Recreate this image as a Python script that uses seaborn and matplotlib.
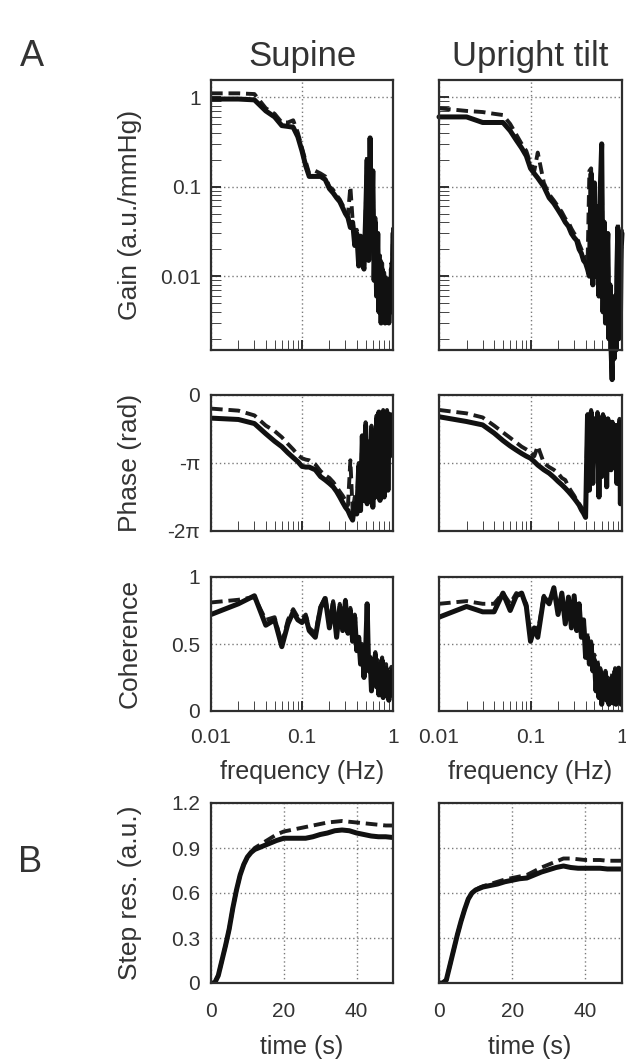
import numpy as np
import seaborn as sns
import matplotlib.pyplot as plt
from matplotlib.ticker import FixedLocator, LogLocator, NullFormatter

# frequency grid (Hz) shared by the spectral panels
freq = [0.01, 0.02, 0.03, 0.04, 0.05, 0.06, 0.07, 0.08, 0.09, 0.10, 0.11, 0.12,
        0.14, 0.16, 0.18, 0.20, 0.22, 0.24, 0.26, 0.28, 0.30, 0.32, 0.34, 0.36, 0.38, 0.40,
        0.42, 0.44, 0.46, 0.48, 0.50, 0.52, 0.54, 0.56, 0.58, 0.60,
        0.62, 0.64, 0.66, 0.68, 0.70, 0.72, 0.74, 0.76, 0.78, 0.80,
        0.82, 0.84, 0.86, 0.88, 0.90, 0.92, 0.94, 0.96, 0.98, 1.00]

# gain (a.u./mmHg)
gain_supine_solid = [0.95, 0.95, 0.93, 0.70, 0.60, 0.48, 0.47, 0.46, 0.36, 0.25, 0.17, 0.13,
                     0.13, 0.13, 0.12, 0.095, 0.085, 0.075, 0.068, 0.058, 0.050, 0.045, 0.035, 0.040, 0.022, 0.030,
                     0.013, 0.028, 0.014, 0.012, 0.045, 0.20, 0.015, 0.35, 0.03, 0.15,
                     0.009, 0.04, 0.006, 0.03, 0.004, 0.015, 0.003, 0.012, 0.004, 0.010,
                     0.003, 0.008, 0.004, 0.009, 0.003, 0.006, 0.004, 0.012, 0.008, 0.030]
gain_supine_dashed = [1.10, 1.10, 1.08, 0.75, 0.65, 0.52, 0.52, 0.55, 0.40, 0.27, 0.19, 0.14,
                      0.15, 0.14, 0.13, 0.10, 0.092, 0.080, 0.072, 0.062, 0.055, 0.048, 0.10, 0.042, 0.025, 0.033,
                      0.015, 0.030, 0.016, 0.014, 0.05, 0.22, 0.017, 0.30, 0.035, 0.12,
                      0.010, 0.045, 0.007, 0.032, 0.005, 0.017, 0.0035, 0.014, 0.005, 0.011,
                      0.0035, 0.009, 0.005, 0.010, 0.0035, 0.007, 0.005, 0.014, 0.009, 0.035]
gain_tilt_solid = [0.60, 0.60, 0.52, 0.52, 0.52, 0.42, 0.33, 0.27, 0.22, 0.16, 0.14, 0.125,
                   0.10, 0.075, 0.065, 0.055, 0.047, 0.040, 0.036, 0.030, 0.027, 0.025, 0.020, 0.018, 0.015, 0.014,
                   0.012, 0.010, 0.14, 0.008, 0.11, 0.010, 0.06, 0.006, 0.10, 0.30,
                   0.004, 0.04, 0.003, 0.015, 0.030, 0.002, 0.008, 0.0015, 0.0007, 0.004,
                   0.0012, 0.006, 0.0015, 0.012, 0.035, 0.002, 0.015, 0.003, 0.02, 0.03]
gain_tilt_dashed = [0.75, 0.70, 0.68, 0.65, 0.63, 0.50, 0.38, 0.30, 0.25, 0.18, 0.15, 0.24,
                    0.11, 0.082, 0.070, 0.060, 0.052, 0.044, 0.040, 0.034, 0.030, 0.028, 0.023, 0.020, 0.017, 0.016,
                    0.013, 0.15, 0.16, 0.009, 0.10, 0.011, 0.05, 0.007, 0.09, 0.25,
                    0.005, 0.035, 0.004, 0.012, 0.025, 0.0025, 0.007, 0.002, 0.001, 0.005,
                    0.0015, 0.005, 0.002, 0.010, 0.04, 0.0025, 0.012, 0.004, 0.018, 0.035]

# phase, in units of pi
phase_supine_solid = [-0.34, -0.36, -0.42, -0.57, -0.68, -0.76, -0.85, -0.92, -0.98, -1.05, -1.06, -1.06,
                      -1.10, -1.20, -1.25, -1.30, -1.35, -1.42, -1.50, -1.58, -1.65, -1.70, -1.78, -1.84, -1.60, -1.75,
                      -1.05, -1.70, -0.60, -1.55, -0.45, -1.60, -0.70, -1.45, -0.50, -1.65,
                      -0.80, -1.50, -0.35, -1.20, -0.25, -1.55, -0.30, -1.10, -0.25, -1.50,
                      -0.30, -1.00, -0.25, -1.40, -0.40, -0.90, -0.30, -0.60, -0.35, -0.40]
phase_supine_dashed = [-0.20, -0.23, -0.30, -0.45, -0.53, -0.62, -0.72, -0.80, -0.88, -0.93, -0.95, -0.96,
                       -1.02, -1.12, -1.18, -1.22, -1.28, -1.35, -1.42, -1.48, -1.55, -1.62, -0.96, -1.70, -1.50, -1.65,
                       -1.00, -1.60, -0.55, -1.45, -0.40, -1.50, -0.65, -1.35, -0.45, -1.55,
                       -0.75, -1.40, -0.30, -1.10, -0.22, -1.45, -0.28, -1.00, -0.22, -1.40,
                       -0.28, -0.95, -0.22, -1.30, -0.35, -0.85, -0.28, -0.55, -0.30, -0.35]
phase_tilt_solid = [-0.32, -0.39, -0.44, -0.56, -0.67, -0.75, -0.81, -0.86, -0.90, -0.93, -0.98, -1.03,
                    -1.10, -1.15, -1.21, -1.27, -1.32, -1.37, -1.42, -1.47, -1.52, -1.57, -1.62, -1.69, -1.74, -1.80,
                    -0.30, -1.40, -0.25, -1.30, -0.35, -0.90, -0.28, -1.50, -0.40, -1.20,
                    -0.30, -1.00, -0.45, -1.35, -0.35, -0.80, -0.50, -1.10, -0.40, -0.90,
                    -0.50, -0.95, -0.45, -1.30, -0.50, -0.85, -0.40, -1.60, -0.60, -0.50]
phase_tilt_dashed = [-0.22, -0.27, -0.33, -0.45, -0.55, -0.63, -0.70, -0.76, -0.80, -0.84, -0.90, -0.75,
                     -1.00, -1.06, -1.10, -1.15, -1.22, -1.25, -1.35, -1.42, -1.48, -1.55, -1.60, -1.65, -1.70, -1.76,
                     -0.28, -1.35, -0.22, -1.25, -0.30, -0.85, -0.25, -1.45, -0.35, -1.15,
                     -0.28, -0.95, -0.40, -1.30, -0.30, -0.75, -0.45, -1.05, -0.35, -0.85,
                     -0.45, -0.90, -0.40, -1.25, -0.45, -0.80, -0.35, -1.50, -0.55, -0.45]

# coherence
coh_supine_solid = [0.72, 0.80, 0.86, 0.64, 0.68, 0.48, 0.65, 0.74, 0.68, 0.66, 0.70, 0.60,
                    0.55, 0.77, 0.84, 0.62, 0.80, 0.55, 0.78, 0.60, 0.82, 0.58, 0.75, 0.52, 0.70, 0.45,
                    0.55, 0.35, 0.48, 0.25, 0.45, 0.80, 0.30, 0.40, 0.15, 0.35,
                    0.20, 0.42, 0.18, 0.35, 0.12, 0.30, 0.20, 0.38, 0.10, 0.28,
                    0.15, 0.32, 0.12, 0.25, 0.08, 0.22, 0.15, 0.30, 0.12, 0.20]
coh_supine_dashed = [0.81, 0.83, 0.85, 0.68, 0.70, 0.50, 0.68, 0.76, 0.70, 0.69, 0.72, 0.62,
                     0.58, 0.78, 0.85, 0.65, 0.82, 0.58, 0.80, 0.62, 0.83, 0.60, 0.77, 0.55, 0.72, 0.48,
                     0.58, 0.38, 0.50, 0.28, 0.48, 0.78, 0.33, 0.42, 0.18, 0.38,
                     0.22, 0.44, 0.20, 0.38, 0.15, 0.32, 0.22, 0.40, 0.12, 0.30,
                     0.18, 0.35, 0.15, 0.28, 0.10, 0.25, 0.18, 0.33, 0.15, 0.22]
coh_tilt_solid = [0.70, 0.78, 0.74, 0.74, 0.88, 0.75, 0.86, 0.88, 0.78, 0.52, 0.62, 0.55,
                  0.85, 0.80, 0.92, 0.72, 0.88, 0.65, 0.85, 0.62, 0.86, 0.60, 0.80, 0.55, 0.68, 0.40,
                  0.55, 0.35, 0.50, 0.30, 0.38, 0.15, 0.35, 0.10, 0.30, 0.05,
                  0.25, 0.10, 0.28, 0.08, 0.22, 0.05, 0.20, 0.10, 0.25, 0.06,
                  0.18, 0.30, 0.05, 0.20, 0.08, 0.32, 0.10, 0.25, 0.05, 0.15]
coh_tilt_dashed = [0.80, 0.82, 0.80, 0.80, 0.88, 0.80, 0.88, 0.86, 0.80, 0.55, 0.64, 0.58,
                   0.86, 0.82, 0.90, 0.75, 0.88, 0.68, 0.85, 0.65, 0.86, 0.62, 0.80, 0.58, 0.70, 0.45,
                   0.58, 0.38, 0.52, 0.32, 0.42, 0.18, 0.38, 0.12, 0.32, 0.08,
                   0.28, 0.12, 0.30, 0.10, 0.25, 0.07, 0.22, 0.12, 0.28, 0.08,
                   0.20, 0.32, 0.07, 0.22, 0.10, 0.34, 0.12, 0.28, 0.07, 0.18]

# step responses
step_time = [0, 1, 2, 3, 4, 5, 6, 7, 8, 9, 10, 11, 12, 14, 16, 18, 20, 22, 24, 26, 28,
             30, 32, 34, 36, 38, 40, 42, 44, 46, 48, 50]
step_supine_solid = [0, 0.0, 0.05, 0.15, 0.25, 0.36, 0.50, 0.62, 0.72, 0.79, 0.84, 0.87, 0.89, 0.91,
                     0.93, 0.95, 0.965, 0.965, 0.965, 0.965, 0.975, 0.99, 1.00, 1.015, 1.02, 1.015,
                     1.00, 0.99, 0.98, 0.975, 0.975, 0.97]
step_supine_dashed = [0, 0.0, 0.05, 0.15, 0.25, 0.36, 0.50, 0.62, 0.72, 0.79, 0.84, 0.87, 0.90, 0.93,
                      0.96, 0.99, 1.01, 1.02, 1.03, 1.04, 1.05, 1.06, 1.07, 1.075, 1.08, 1.075,
                      1.07, 1.065, 1.06, 1.055, 1.05, 1.05]
step_tilt_solid = [0, 0.0, 0.02, 0.12, 0.22, 0.32, 0.41, 0.49, 0.56, 0.60, 0.62, 0.63, 0.64, 0.65,
                   0.66, 0.675, 0.685, 0.695, 0.70, 0.72, 0.74, 0.755, 0.77, 0.78, 0.77, 0.765,
                   0.765, 0.765, 0.765, 0.76, 0.76, 0.76]
step_tilt_dashed = [0, 0.0, 0.02, 0.12, 0.22, 0.32, 0.41, 0.49, 0.56, 0.60, 0.62, 0.635, 0.645, 0.66,
                    0.675, 0.69, 0.70, 0.71, 0.72, 0.745, 0.77, 0.79, 0.81, 0.83, 0.83, 0.825,
                    0.82, 0.82, 0.82, 0.815, 0.815, 0.815]

TEXT = "#333333"
AXC = "#2e2e2e"
GRID = "#7a7a7a"

sns.set_style("white")
plt.rcParams["font.family"] = ["Liberation Sans", "DejaVu Sans"]

W, H = 626, 1063
fig = plt.figure(figsize=(W / 100, H / 100), dpi=100)


def px_axes(x0, y0, x1, y1):
    return fig.add_axes([x0 / W, 1 - y1 / H, (x1 - x0) / W, (y1 - y0) / H])


def draw_pair(ax, x, solid, dashed, clip=True):
    sns.lineplot(x=x, y=dashed, ax=ax, color="#1c1c1c", lw=2.8,
                 linestyle=(0, (3, 1.5)), clip_on=clip)
    sns.lineplot(x=x, y=solid, ax=ax, color="#111111", lw=3.6, clip_on=clip)
    ax.set_xlabel("")
    ax.set_ylabel("")


def base_style(ax):
    for s in ax.spines.values():
        s.set_color(AXC)
        s.set_linewidth(1.6)
    ax.tick_params(colors=AXC, labelcolor=TEXT, labelsize=15, width=1.4)
    ax.grid(True, which="major", linestyle=(0, (1, 2)), color=GRID, lw=1.0)


def freq_style(ax, show_x):
    ax.set_xscale("log")
    ax.set_xlim(0.01, 1)
    ax.xaxis.set_major_locator(FixedLocator([0.01, 0.1, 1]))
    ax.xaxis.set_minor_locator(LogLocator(base=10, subs=np.arange(2, 10)))
    ax.xaxis.set_minor_formatter(NullFormatter())
    ax.tick_params(axis="x", which="both", direction="in", length=7, bottom=True, top=False, pad=12)
    if show_x:
        ax.set_xticklabels(["0.01", "0.1", "1"])
    else:
        ax.tick_params(axis="x", labelbottom=False)


cols = [(211, 393), (439, 622)]
gain_data = [(gain_supine_solid, gain_supine_dashed), (gain_tilt_solid, gain_tilt_dashed)]
phase_data = [(phase_supine_solid, phase_supine_dashed), (phase_tilt_solid, phase_tilt_dashed)]
coh_data = [(coh_supine_solid, coh_supine_dashed), (coh_tilt_solid, coh_tilt_dashed)]
step_data = [(step_supine_solid, step_supine_dashed), (step_tilt_solid, step_tilt_dashed)]

for c, (x0, x1) in enumerate(cols):
    left = c == 0

    # gain
    ax = px_axes(x0, 80, x1, 350)
    draw_pair(ax, freq, gain_data[c][0], gain_data[c][1], clip=left)
    base_style(ax)
    freq_style(ax, False)
    ax.set_yscale("log")
    ax.set_ylim(0.0015, 1.55)
    ax.yaxis.set_major_locator(FixedLocator([0.01, 0.1, 1]))
    ax.yaxis.set_minor_locator(LogLocator(base=10, subs=np.arange(2, 10)))
    ax.yaxis.set_minor_formatter(NullFormatter())
    ax.tick_params(axis="y", which="both", direction="in", length=7, left=True, pad=7)
    if left:
        ax.set_yticklabels(["0.01", "0.1", "1"])
    else:
        ax.tick_params(axis="y", labelleft=False)

    # phase
    ax = px_axes(x0, 395, x1, 531)
    solid = [v * np.pi for v in phase_data[c][0]]
    dashed = [v * np.pi for v in phase_data[c][1]]
    draw_pair(ax, freq, solid, dashed)
    base_style(ax)
    freq_style(ax, False)
    ax.set_ylim(-2 * np.pi, 0)
    ax.set_yticks([-2 * np.pi, -np.pi, 0])
    ax.tick_params(axis="y", length=0, pad=8)
    if left:
        ax.set_yticklabels(["-2π", "-π", "0"])
    else:
        ax.tick_params(axis="y", labelleft=False)

    # coherence
    ax = px_axes(x0, 577, x1, 711)
    draw_pair(ax, freq, coh_data[c][0], coh_data[c][1])
    base_style(ax)
    freq_style(ax, True)
    ax.set_ylim(0, 1)
    ax.set_yticks([0, 0.5, 1])
    ax.tick_params(axis="y", length=0, pad=8)
    if left:
        ax.set_yticklabels(["0", "0.5", "1"])
    else:
        ax.tick_params(axis="y", labelleft=False)

    # step response
    ax = px_axes(x0, 803, x1, 983)
    draw_pair(ax, step_time, step_data[c][0], step_data[c][1])
    base_style(ax)
    ax.set_xlim(0, 50)
    ax.set_ylim(0, 1.2)
    ax.set_xticks([0, 20, 40])
    ax.set_yticks([0, 0.3, 0.6, 0.9, 1.2])
    ax.tick_params(axis="x", length=0, pad=14)
    ax.tick_params(axis="y", length=0, pad=8)
    if left:
        ax.set_yticklabels(["0", "0.3", "0.6", "0.9", "1.2"])
    else:
        ax.tick_params(axis="y", labelleft=False)


def ftext(x, y, s, **kw):
    fig.text(x / W, 1 - y / H, s, color=TEXT, **kw)


ftext(20, 66, "A", fontsize=26, va="baseline")
ftext(18, 872, "B", fontsize=26, va="baseline")
ftext(302, 66, "Supine", fontsize=25, ha="center", va="baseline")
ftext(530, 66, "Upright tilt", fontsize=25, ha="center", va="baseline")

ftext(130, 215, "Gain (a.u./mmHg)", fontsize=19, rotation=90, ha="center", va="center")
ftext(130, 463, "Phase (rad)", fontsize=19, rotation=90, ha="center", va="center")
ftext(130, 644, "Coherence", fontsize=19, rotation=90, ha="center", va="center")
ftext(130, 893, "Step res. (a.u.)", fontsize=19, rotation=90, ha="center", va="center")

for xc in (302, 530):
    ftext(xc, 772, "frequency (Hz)", fontsize=18, ha="center", va="center")
    ftext(xc, 1047, "time (s)", fontsize=18, ha="center", va="center")

fig.savefig("out.png", dpi=100, facecolor="white")
